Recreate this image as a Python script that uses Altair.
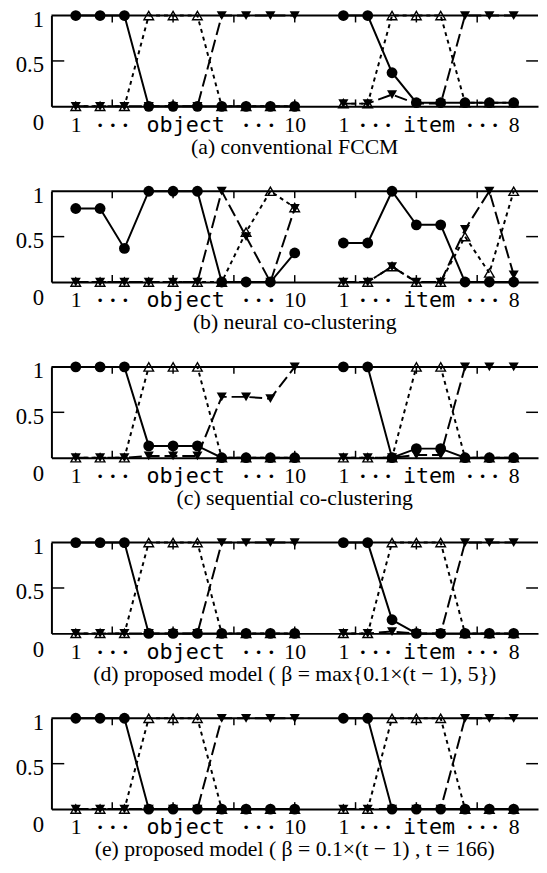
import altair as alt
import pandas as pd

# ---- x layout: objects 1..10, gap, items 1..8 ----
OBJ_POS = [1, 2, 3, 4, 5, 6, 7, 8, 9, 10]
ITEM_POS = [12, 13, 14, 15, 16, 17, 18, 19]

XLABEL_POS = [1, 2.5, 5.5, 8.5, 10, 12, 13.3, 15.5, 17.7, 19]
XLABEL_TEXT = ["1", "· · ·", "object", "· · ·", "10", "1", "· · ·", "item", "· · ·", "8"]
MONO_LABEL_POS = [5.5, 15.5]
DOT_LABEL_POS = [2.5, 8.5, 13.3, 17.7]
XTICKS = [2.5, 5, 7.5, 10, 12.5, 15, 17.5]
YLABEL_POS = [0, 0.5, 1]
YLABEL_TEXT = ["0", "0.5", "1"]

# ---- values: 10 objects followed by 8 items ----
A_CIRCLE = [1, 1, 1, 0, 0, 0, 0, 0, 0, 0, 1, 1, 0.37, 0.04, 0.04, 0.04, 0.04, 0.04]
A_UP = [0, 0, 0, 1, 1, 1, 0, 0, 0, 0, 0.03, 0.03, 1, 1, 1, 0.04, 0.04, 0.04]
A_DOWN = [0, 0, 0, 0, 0, 0, 1, 1, 1, 1, 0.03, 0.03, 0.13, 0.03, 0.03, 1, 1, 1]

B_CIRCLE = [0.81, 0.81, 0.37, 1, 1, 1, 0, 0, 0, 0.32, 0.43, 0.43, 1, 0.63, 0.63, 0, 0, 0]
B_UP = [0, 0, 0, 0, 0, 0, 0, 0.55, 1, 0.82, 0, 0, 0.17, 0, 0, 0.5, 0.1, 1]
B_DOWN = [0, 0, 0, 0, 0, 0, 1, 0.5, 0, 0.81, 0, 0, 0.17, 0, 0, 0.58, 1, 0.08]

C_CIRCLE = [1, 1, 1, 0.13, 0.13, 0.13, 0, 0, 0, 0, 1, 1, 0, 0.1, 0.1, 0, 0, 0]
C_UP = [0, 0, 0, 1, 1, 1, 0, 0, 0, 0, 0, 0, 0, 1, 1, 0, 0, 0]
C_DOWN = [0, 0, 0, 0.02, 0.02, 0.02, 0.67, 0.67, 0.65, 1, 0, 0, 0, 0.03, 0.03, 1, 1, 1]

D_CIRCLE = [1, 1, 1, 0, 0, 0, 0, 0, 0, 0, 1, 1, 0.15, 0, 0, 0, 0, 0]
D_UP = [0, 0, 0, 1, 1, 1, 0, 0, 0, 0, 0, 0, 1, 1, 1, 0, 0, 0]
D_DOWN = [0, 0, 0, 0, 0, 0, 1, 1, 1, 1, 0, 0, 0.02, 0, 0, 1, 1, 1]

E_CIRCLE = [1, 1, 1, 0, 0, 0, 0, 0, 0, 0, 1, 1, 0, 0, 0, 0, 0, 0]
E_UP = [0, 0, 0, 1, 1, 1, 0, 0, 0, 0, 0, 0, 1, 1, 1, 0, 0, 0]
E_DOWN = [0, 0, 0, 0, 0, 0, 1, 1, 1, 1, 0, 0, 0, 0, 0, 1, 1, 1]

CAPTIONS = [
    "(a) conventional FCCM",
    "(b) neural co-clustering",
    "(c) sequential co-clustering",
    "(d) proposed model ( β = max{0.1×(t − 1), 5})",
    "(e) proposed model ( β = 0.1×(t − 1) , t = 166)",
]
PANELS = [
    (A_CIRCLE, A_UP, A_DOWN),
    (B_CIRCLE, B_UP, B_DOWN),
    (C_CIRCLE, C_UP, C_DOWN),
    (D_CIRCLE, D_UP, D_DOWN),
    (E_CIRCLE, E_UP, E_DOWN),
]

W = 493
H = 92
SERIF = "Liberation Serif"
MONO = "DejaVu Sans Mono"

label_expr = " : ".join(
    f"datum.value == {p} ? '{t}'" for p, t in zip(XLABEL_POS, XLABEL_TEXT)
) + " : ''"
mono_test = " || ".join(f"datum.value == {p}" for p in MONO_LABEL_POS)
dot_test = " || ".join(f"datum.value == {p}" for p in DOT_LABEL_POS)
ylabel_expr = " : ".join(
    f"datum.value == {p} ? '{t}'" for p, t in zip(YLABEL_POS, YLABEL_TEXT)
) + " : ''"

xaxis = alt.Axis(
    values=XLABEL_POS, labelExpr=label_expr, title=None, ticks=False, grid=False,
    domain=True, domainColor="black", domainWidth=2,
    labelFont={"condition": {"test": mono_test, "value": MONO}, "value": SERIF},
    labelFontSize={"condition": {"test": mono_test, "value": 22}, "value": 22},
    labelFontWeight={"condition": {"test": dot_test, "value": "bold"}, "value": "normal"},
    labelColor="black", labelPadding=8, labelOverlap=False, labelFlush=False,
    labelBound=False,
)
yaxis = alt.Axis(
    values=YLABEL_POS, labelExpr=ylabel_expr, title=None, ticks=False, grid=False,
    domain=True, domainColor="black", domainWidth=2,
    labelFont=SERIF, labelFontSize=23, labelColor="black", labelPadding=8,
    labelOffset={"condition": {"test": "datum.value == 0", "value": 16}, "value": 4},
    labelOverlap=False,
)
xs = alt.Scale(domain=[0, 20], nice=False, zero=False)
ys = alt.Scale(domain=[0, 1], nice=False, zero=False)


def make_panel(circle, up, down, caption):
    rows = []
    for name, vals in (("circle", circle), ("up", up), ("down", down)):
        for k, v in enumerate(vals):
            if k < 10:
                rows.append({"series": name, "pos": OBJ_POS[k], "value": v, "seg": "object"})
            else:
                rows.append({"series": name, "pos": ITEM_POS[k - 10], "value": v, "seg": "item"})
    df = pd.DataFrame(rows)
    base = alt.Chart(df)
    X = alt.X("pos:Q", scale=xs, axis=xaxis)
    Y = alt.Y("value:Q", scale=ys, axis=yaxis)

    def sel(name):
        return base.transform_filter(f"datum.series == '{name}'")

    line_c = sel("circle").mark_line(color="black", strokeWidth=2).encode(x=X, y=Y, detail="seg:N")
    line_u = sel("up").mark_line(color="black", strokeWidth=2, strokeDash=[4, 4]).encode(x=X, y=Y, detail="seg:N")
    line_d = sel("down").mark_line(color="black", strokeWidth=2, strokeDash=[13, 5]).encode(x=X, y=Y, detail="seg:N")
    pt_c = sel("circle").mark_point(shape="circle", filled=True, size=120, color="black", opacity=1).encode(x=X, y=Y)
    pt_d = sel("down").mark_point(shape="triangle-down", filled=True, size=105, color="black", opacity=1).encode(x=X, y=Y)
    pt_u = sel("up").mark_point(shape="triangle-up", filled=False, size=95, color="black", strokeWidth=1.4, opacity=1).encode(x=X, y=Y)

    tick_df = pd.DataFrame({"t": XTICKS})
    top_ticks = alt.Chart(tick_df).mark_rule(color="black", strokeWidth=1.5).encode(
        x=alt.X("t:Q", scale=xs, axis=xaxis), y=alt.value(0), y2=alt.value(7))
    bot_ticks = alt.Chart(tick_df).mark_rule(color="black", strokeWidth=1.5).encode(
        x=alt.X("t:Q", scale=xs, axis=xaxis), y=alt.value(H - 7), y2=alt.value(H))
    half_df = pd.DataFrame({"v": [0.5]})
    left_tick = alt.Chart(half_df).mark_rule(color="black", strokeWidth=1.5).encode(
        y=alt.Y("v:Q", scale=ys, axis=yaxis), x=alt.value(0), x2=alt.value(13))
    right_tick = alt.Chart(half_df).mark_rule(color="black", strokeWidth=1.5).encode(
        y=alt.Y("v:Q", scale=ys, axis=yaxis), x=alt.value(W - 12), x2=alt.value(W))
    top_df = pd.DataFrame({"v": [1]})
    top_line = alt.Chart(top_df).mark_rule(color="black", strokeWidth=2).encode(
        y=alt.Y("v:Q", scale=ys, axis=yaxis), x=alt.value(0), x2=alt.value(W))

    return alt.layer(
        top_line, top_ticks, bot_ticks, left_tick, right_tick,
        line_c, line_u, line_d, pt_c, pt_u, pt_d,
    ).properties(
        width=W, height=H,
        title=alt.TitleParams(text=caption, orient="bottom", anchor="middle",
                              font=SERIF, fontSize=22, fontWeight="normal",
                              color="black", offset=2),
    )


panels = [make_panel(c, u, d, cap) for (c, u, d), cap in zip(PANELS, CAPTIONS)]

chart = alt.vconcat(*panels, spacing=26).properties(
    padding={"left": 7, "top": -6, "right": 0, "bottom": -3}
).configure_view(strokeWidth=0)

chart.save("out.html", embed_options={"renderer": "svg", "actions": False})
